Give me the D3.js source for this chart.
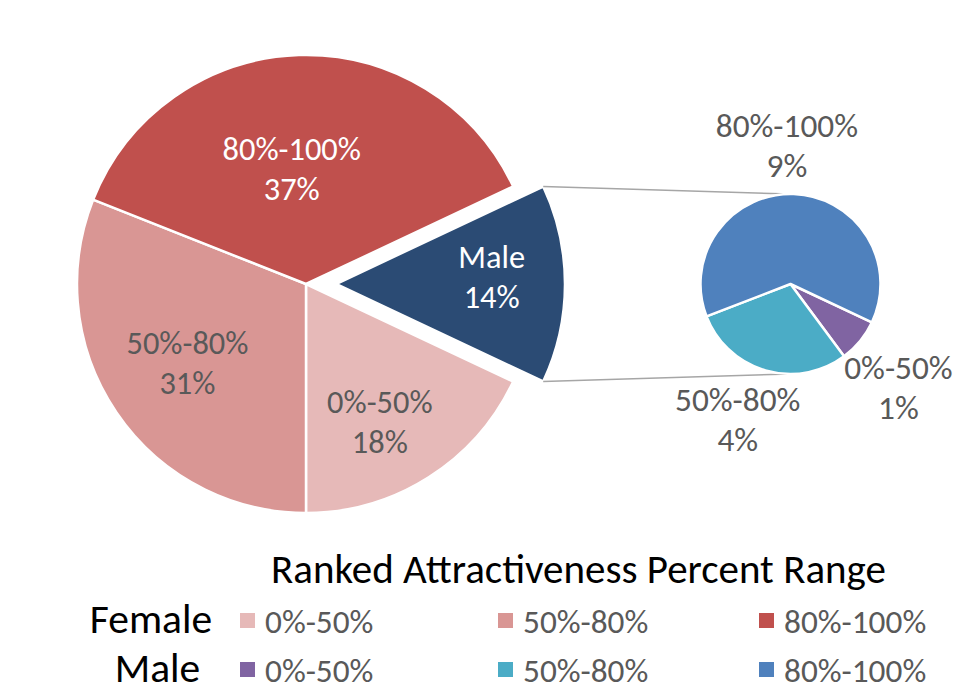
<!DOCTYPE html>
<html><head><meta charset="utf-8">
<script src="https://cdn.jsdelivr.net/npm/d3@7"></script>
<style>body{margin:0;background:#fff} svg{display:block}</style>
</head><body>
<svg id="chart" width="960" height="699"></svg>
<script>
// ---- data ----
const femaleCategories = ["0%-50%", "50%-80%", "80%-100%"];
const femaleValues = [18, 31, 37];
const maleCategories = ["0%-50%", "50%-80%", "80%-100%"];
const maleValues = [1.1, 4.1, 8.8];
const groupLabels = ["Female", "Male"];
const legendTitle = "Ranked Attractiveness Percent Range";

// ---- style / layout ----
const femaleColors = ["#E6B9B8", "#D99694", "#C0504D"];
const maleColors = ["#8064A2", "#4BACC6", "#4F81BD"];
const maleTotalColor = "#2B4B74";
const FONT = "Carlito, Calibri, Lato, sans-serif";
const textGray = "#595959";

const svg = d3.select("#chart");
const main = {cx: 306, cy: 284, r: 229, explode: 30};
const sec = {cx: 790.5, cy: 284, r: 90};

const maleTotal = d3.sum(maleValues);
const mainData = [{key: "Male", value: maleTotal, color: maleTotalColor, male: true}]
  .concat(femaleCategories.map((c, i) => ({key: c, value: femaleValues[i], color: femaleColors[i]})));
const total = d3.sum(mainData, d => d.value);
const a0 = Math.PI / 2 - Math.PI * maleTotal / total;
const mainPie = d3.pie().sort(null).value(d => d.value).startAngle(a0).endAngle(a0 + 2 * Math.PI);
const mainArcs = mainPie(mainData);
const arcMain = d3.arc().innerRadius(0).outerRadius(main.r);

// label placement: [radius fraction, angle offset (deg)] per slice (Male, 0-50, 50-80, 80-100)
const mainLabelPlace = [[0.68, 1.5], [0.725, 6], [0.65, -3], [0.46, -6]];
const mainLabelFill = ["#fff", textGray, textGray, "#fff"];

const gMain = svg.append("g").attr("transform", `translate(${main.cx},${main.cy})`);
const maleArc = mainArcs[0];
const maleMid = (maleArc.startAngle + maleArc.endAngle) / 2;
const ex = main.explode * Math.sin(maleMid), ey = -main.explode * Math.cos(maleMid);

gMain.selectAll("path.slice").data(mainArcs).join("path")
  .attr("class", "slice")
  .attr("d", arcMain)
  .attr("fill", d => d.data.color)
  .attr("stroke", "#fff").attr("stroke-width", 2.5).attr("stroke-linejoin", "round")
  .attr("transform", d => d.data.male ? `translate(${ex},${ey})` : null);

function fmt(v) { return Math.round(v) + "%"; }

mainArcs.forEach((d, i) => {
  const mid = (d.startAngle + d.endAngle) / 2 + mainLabelPlace[i][1] * Math.PI / 180;
  const rr = mainLabelPlace[i][0] * main.r;
  let x = rr * Math.sin(mid), y = -rr * Math.cos(mid);
  if (d.data.male) { x += ex; y += ey; }
  const t = gMain.append("text").attr("text-anchor", "middle")
    .attr("font-family", FONT).attr("font-size", 32.4).attr("fill", mainLabelFill[i]);
  t.append("tspan").attr("x", x).attr("y", y - 20).text(d.data.key);
  t.append("tspan").attr("x", x).attr("y", y + 20).text(fmt(d.data.value / total * 100));
});

// connector lines
const c1 = {x: main.cx + ex + main.r * Math.sin(maleArc.startAngle), y: main.cy + ey - main.r * Math.cos(maleArc.startAngle)};
const c2 = {x: main.cx + ex + main.r * Math.sin(maleArc.endAngle), y: main.cy + ey - main.r * Math.cos(maleArc.endAngle)};
svg.append("line").attr("x1", c1.x).attr("y1", c1.y).attr("x2", sec.cx).attr("y2", sec.cy - sec.r)
  .attr("stroke", "#A6A6A6").attr("stroke-width", 1.5);
svg.append("line").attr("x1", c2.x).attr("y1", c2.y).attr("x2", sec.cx).attr("y2", sec.cy + sec.r)
  .attr("stroke", "#A6A6A6").attr("stroke-width", 1.5);

// secondary pie
const secData = maleCategories.map((c, i) => ({key: c, value: maleValues[i], color: maleColors[i]}));
const s0 = maleArc.endAngle;
const secPie = d3.pie().sort(null).value(d => d.value).startAngle(s0).endAngle(s0 + 2 * Math.PI);
const secArcs = secPie(secData);
const arcSec = d3.arc().innerRadius(0).outerRadius(sec.r);
const gSec = svg.append("g").attr("transform", `translate(${sec.cx},${sec.cy})`);
gSec.selectAll("path").data(secArcs).join("path")
  .attr("d", arcSec).attr("fill", d => d.data.color)
  .attr("stroke", "#fff").attr("stroke-width", 2.5).attr("stroke-linejoin", "round");

const secLabelPlace = [[1.75, 7.4], [1.74, 3.5], [1.41, -3.7]];
secArcs.forEach((d, i) => {
  const mid = (d.startAngle + d.endAngle) / 2 + secLabelPlace[i][1] * Math.PI / 180;
  const rr = secLabelPlace[i][0] * sec.r;
  const x = rr * Math.sin(mid), y = -rr * Math.cos(mid);
  const t = gSec.append("text").attr("text-anchor", "middle")
    .attr("font-family", FONT).attr("font-size", 33.3).attr("fill", textGray);
  t.append("tspan").attr("x", x).attr("y", y - 20).text(d.data.key);
  t.append("tspan").attr("x", x).attr("y", y + 20).text(fmt(d.data.value / total * 100));
});

// legend
const legend = svg.append("g");
legend.append("text").attr("x", 578.5).attr("y", 583).attr("text-anchor", "middle")
  .attr("font-family", FONT).attr("font-size", 41).attr("fill", "#000").text(legendTitle);
const rowY = [633, 682];
const rowLabelX = [151, 157.5];
const colX = [240, 498, 759];
const rows = [{cats: femaleCategories, colors: femaleColors}, {cats: maleCategories, colors: maleColors}];
rows.forEach((row, ri) => {
  legend.append("text").attr("x", rowLabelX[ri]).attr("y", rowY[ri]).attr("text-anchor", "middle")
    .attr("font-family", FONT).attr("font-size", 41.5).attr("fill", "#000").text(groupLabels[ri]);
  row.cats.forEach((c, ci) => {
    legend.append("rect").attr("x", colX[ci]).attr("y", rowY[ri] - 20).attr("width", 15).attr("height", 15)
      .attr("fill", row.colors[ci]);
    legend.append("text").attr("x", colX[ci] + 25).attr("y", rowY[ri])
      .attr("font-family", FONT).attr("font-size", 33.3).attr("fill", textGray).text(c);
  });
});
</script>
</body></html>
